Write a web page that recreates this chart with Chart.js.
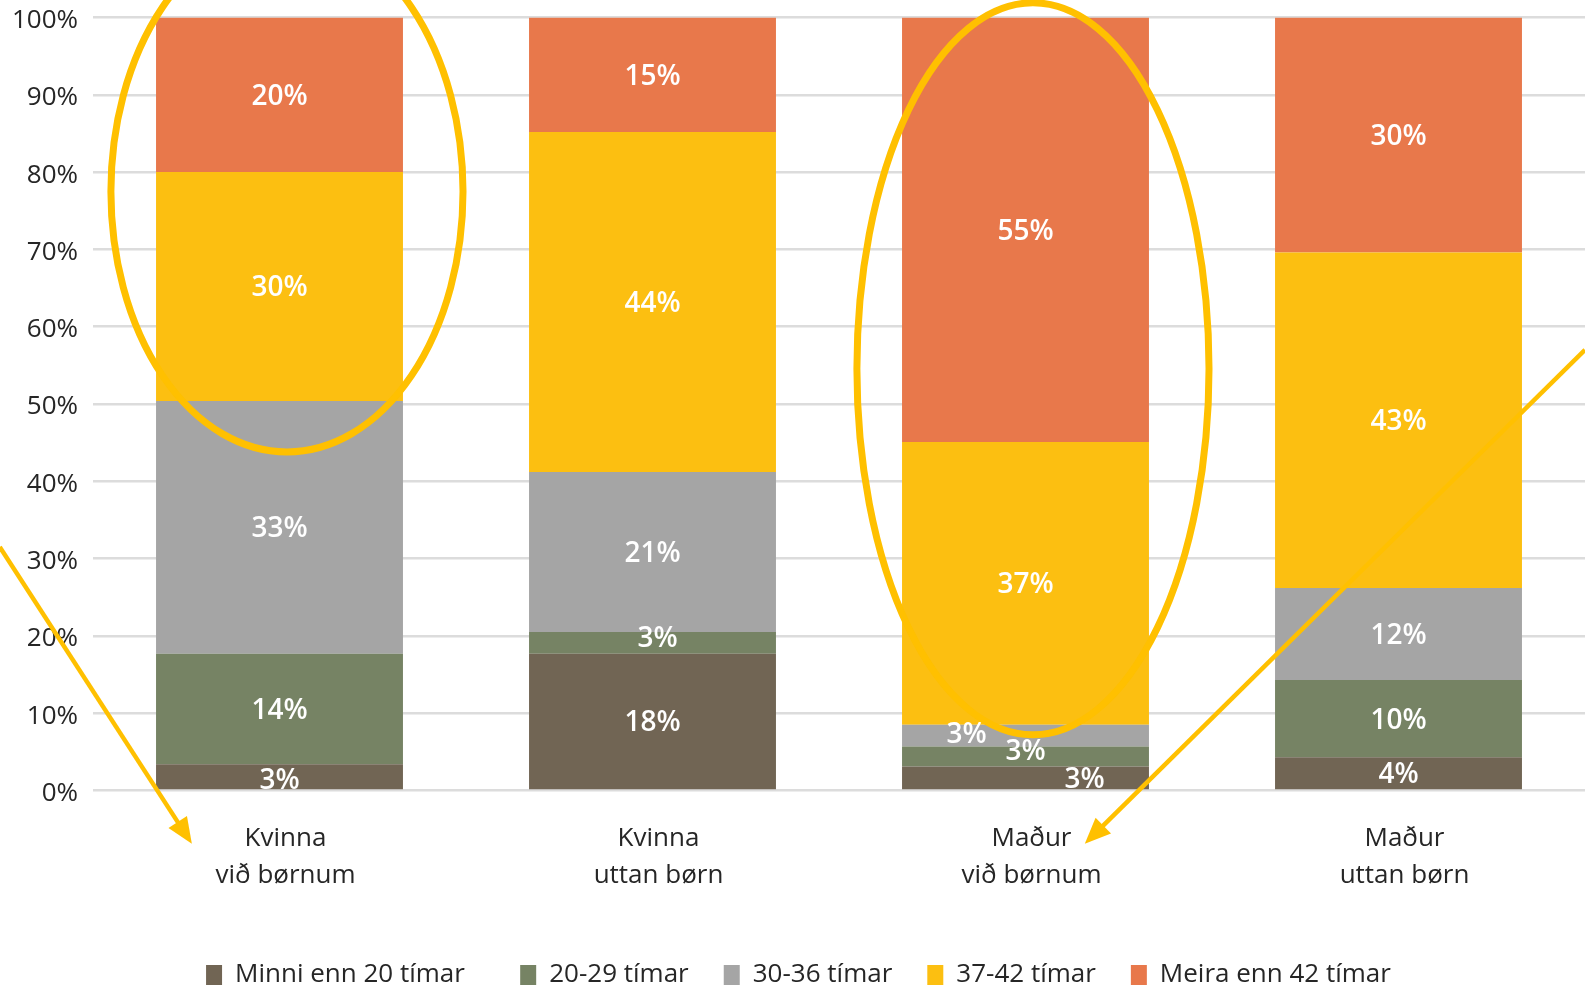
<!DOCTYPE html>
<html>
<head>
<meta charset="utf-8">
<title>Tímar um vikuna</title>
<script src="https://cdn.jsdelivr.net/npm/chart.js@4.4.0/dist/chart.umd.min.js"></script>
<style>
  html, body { margin: 0; padding: 0; background: #fff; }
  .wrap { width: 1585px; height: 990px; }
</style>
</head>
<body>
<div class="wrap"><canvas id="hours"></canvas></div>
<script>
let groups = [["Kvinna", "við børnum"], ["Kvinna", "uttan børn"], ["Maður", "við børnum"], ["Maður", "uttan børn"]];
let seriesNames = ["Minni enn 20 tímar", "20-29 tímar", "30-36 tímar", "37-42 tímar", "Meira enn 42 tímar"];

// share (%) in each group
let under20 = [3.4, 17.7, 3.1, 4.3];
let h20to29 = [14.3, 2.8, 2.6, 10.0];
let h30to36 = [32.7, 20.7, 2.8, 11.9];
let h37to42 = [29.6, 44.0, 36.6, 43.4];
let over42 = [20.0, 14.8, 54.9, 30.4];

let yTicks = [0, 10, 20, 30, 40, 50, 60, 70, 80, 90, 100];

const colors = ["#716554", "#768364", "#a5a5a5", "#fcbf11", "#e8784b"];
const ring = "#ffc000";
const font = "'Open Sans', 'Noto Sans', sans-serif";

// small labels in the thin segments are pushed aside so they don't overlap
const shift = { "1-1": [5, -6], "2-2": [-59, -3], "2-1": [0, -6], "2-0": [59, 0], "0-0": [0, 2] };

const barLabels = {
  id: "barLabels",
  afterDatasetsDraw(chart) {
    const c = chart.ctx;
    c.save();
    c.font = "600 28px " + font;
    c.fillStyle = "#fff";
    c.textAlign = "center";
    c.textBaseline = "middle";
    chart.data.datasets.forEach((ds, i) => {
      chart.getDatasetMeta(i).data.forEach((bar, j) => {
        const d = shift[j + "-" + i] || [0, 0];
        c.fillText(Math.round(ds.data[j]) + "%", bar.x + d[0], (bar.y + bar.base) / 2 + d[1] + 2);
      });
    });
    c.restore();
  }
};

function arrow(c, x1, y1, x2, y2) {
  const a = Math.atan2(y2 - y1, x2 - x1);
  const len = 26, w = 11;
  c.beginPath();
  c.moveTo(x1, y1);
  c.lineTo(x2 - Math.cos(a) * len * 0.8, y2 - Math.sin(a) * len * 0.8);
  c.stroke();
  c.beginPath();
  c.moveTo(x2, y2);
  c.lineTo(x2 - Math.cos(a) * len - Math.sin(a) * w, y2 - Math.sin(a) * len + Math.cos(a) * w);
  c.lineTo(x2 - Math.cos(a) * len + Math.sin(a) * w, y2 - Math.sin(a) * len - Math.cos(a) * w);
  c.closePath();
  c.fill();
}

// yellow rings and arrows drawn over the chart
const marks = {
  id: "marks",
  afterDraw(chart) {
    const c = chart.ctx, x = chart.scales.x, y = chart.scales.y;
    const rx = x.getPixelForValue(0.472) - x.getPixelForValue(0);
    c.save();
    c.strokeStyle = ring;
    c.fillStyle = ring;
    c.lineWidth = 7;
    [[0.02, 111.2, 43.8], [2.02, 101.9, 7.2]].forEach(e => {
      const top = y.getPixelForValue(e[1]), bot = y.getPixelForValue(e[2]);
      c.beginPath();
      c.ellipse(x.getPixelForValue(e[0]), (top + bot) / 2, rx, (bot - top) / 2, 0, 0, Math.PI * 2);
      c.stroke();
    });
    c.lineWidth = 4.5;
    arrow(c, x.getPixelForValue(-0.75), y.getPixelForValue(31.5), x.getPixelForValue(-0.235), y.getPixelForValue(-6.9));
    arrow(c, x.getPixelForValue(3.5), y.getPixelForValue(57.0), x.getPixelForValue(2.159), y.getPixelForValue(-6.9));
    c.restore();
  }
};

const ctx = document.getElementById("hours").getContext("2d");
const hoursChart = new Chart(ctx, {
  type: "bar",
  data: {
    labels: groups,
    datasets: [under20, h20to29, h30to36, h37to42, over42].map((vals, i) => ({
      label: seriesNames[i],
      data: vals,
      backgroundColor: colors[i],
      borderWidth: 0,
      categoryPercentage: 1,
      barPercentage: 0.662
    }))
  },
  options: {
    responsive: true,
    maintainAspectRatio: false,
    animation: false,
    layout: { padding: { top: 17.5, right: 0, bottom: -8, left: 12 } },
    scales: {
      x: {
        stacked: true,
        afterFit(scale) { scale.height = 136.5; },
        grid: { display: false, drawTicks: false },
        border: { display: false },
        ticks: {
          color: "#262626",
          padding: 30,
          labelOffset: 6,
          maxRotation: 0,
          font: { family: font, size: 26, lineHeight: 1.4 }
        }
      },
      y: {
        stacked: true,
        min: 0,
        max: 100,
        afterFit(scale) {
          scale.width = 81;
          scale.paddingTop = 0;
          scale.paddingBottom = 0;
        },
        afterBuildTicks(scale) { scale.ticks = yTicks.map(v => ({ value: v })); },
        grid: { color: "#dcdcdc", lineWidth: 2.5, drawTicks: false },
        border: { display: false },
        ticks: {
          color: "#262626",
          padding: 15,
          labelOffset: 3,
          font: { family: font, size: 26 },
          callback: v => v + "%"
        }
      }
    },
    plugins: {
      legend: {
        position: "bottom",
        labels: {
          color: "#262626",
          boxWidth: 16,
          boxHeight: 20,
          padding: 35,
          font: { family: font, size: 26 },
          generateLabels(chart) {
            const items = Chart.defaults.plugins.legend.labels.generateLabels(chart);
            items[0].text += "   ";
            return items;
          }
        }
      },
      tooltip: { enabled: false }
    }
  },
  plugins: [barLabels, marks]
});
</script>
</body>
</html>
